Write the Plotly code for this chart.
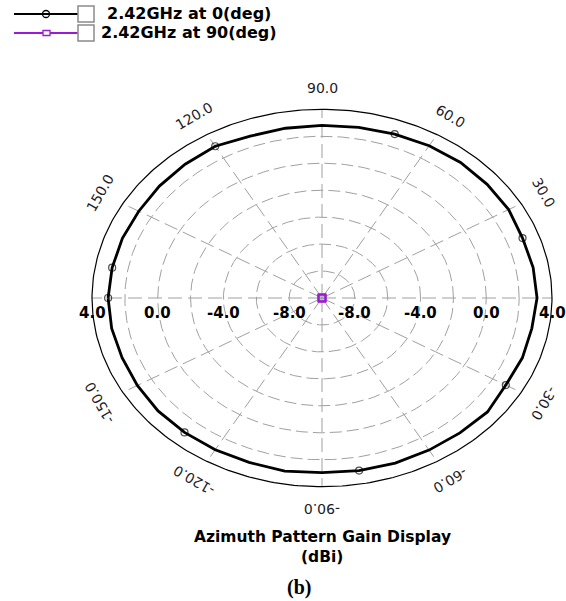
import numpy as np
import plotly.graph_objects as go

# ---- data -------------------------------------------------------------
angles_deg = list(range(-180, 190, 10))
gain_0deg = [3.02, 3.00, 2.95, 2.98, 3.03, 3.02, 3.00, 2.98, 3.05, 2.96,
             3.00, 3.04, 3.03, 3.06, 3.15, 2.92, 2.98, 2.97, 3.09, 3.05,
             2.99, 3.12, 3.12, 3.12, 3.05, 2.94, 2.85, 2.80, 2.79, 2.78,
             3.00, 2.96, 2.92, 2.88, 2.93, 2.97, 3.02]
# 90 deg cut sits at (or below) the bottom of the scale
gain_90deg = [-10.0, -10.0, -10.0, -10.0, -10.0, -10.0, -10.0, -10.0, -10.0, -10.0,
              -10.0, -10.0, -10.0, -10.0, -10.0, -10.0, -10.0, -10.0, -10.0, -10.0,
              -10.0, -10.0, -10.0, -10.0, -10.0, -10.0, -10.0, -10.0, -10.0, -10.0,
              -10.0, -10.0, -10.0, -10.0, -10.0, -10.0, -10.0]
series_names = ["2.42GHz at 0(deg)", "2.42GHz at 90(deg)"]

r_min, r_max = -10.0, 4.0
grid_rings = [-8, -6, -4, -2, 0, 2]
radial_labels = [-8, -4, 0, 4]
angle_labels = [30, 60, 90, 120, 150, -30, -60, -90, -120, -150]

# ---- geometry ---------------------------------------------------------
W, H = 566, 601
CX, CY = 322, 298              # pole position in pixels
PX_X = 230 / (r_max - r_min)   # pixels per dB, horizontal
PX_Y = 188.7 / (r_max - r_min) # pixels per dB, vertical

GRID = "#a0a0a0"
BLACK = "#000000"
PURPLE = "#9a1cd0"
TXT = "#1c1c28"


def to_xy(ang_deg, gain, clip=True):
    a = np.radians(np.asarray(ang_deg, dtype=float))
    g = np.asarray(gain, dtype=float)
    if clip:
        g = np.clip(g, r_min, r_max)
    rho = g - r_min
    return rho * np.cos(a), rho * np.sin(a)


fig = go.Figure()

# grid rings
ring_t = np.linspace(0, 360, 361)
for g in grid_rings:
    x, y = to_xy(ring_t, np.full(ring_t.shape, g))
    fig.add_trace(go.Scatter(x=x, y=y, mode="lines", hoverinfo="skip",
                             line=dict(color=GRID, width=1, dash="12px,5px"),
                             showlegend=False))
# spokes
for a in range(0, 360, 30):
    x, y = to_xy([a, a], [r_min, r_max])
    fig.add_trace(go.Scatter(x=x, y=y, mode="lines", hoverinfo="skip",
                             line=dict(color=GRID, width=1, dash="14px,6px"),
                             showlegend=False))
# outer boundary
x, y = to_xy(ring_t, np.full(ring_t.shape, r_max))
fig.add_trace(go.Scatter(x=x, y=y, mode="lines", hoverinfo="skip",
                         line=dict(color=BLACK, width=1.2), showlegend=False))

# pattern traces, a marker on every fifth sample
mk_size = [7 if i % 5 == 0 else 0 for i in range(len(angles_deg))]
x, y = to_xy(angles_deg, gain_0deg)
fig.add_trace(go.Scatter(x=x, y=y, mode="lines+markers", name=series_names[0],
                         line=dict(color=BLACK, width=2.8),
                         marker=dict(symbol="circle-open", size=mk_size,
                                     color=BLACK, line=dict(width=1.2)),
                         showlegend=False))
x, y = to_xy(angles_deg, gain_90deg)
fig.add_trace(go.Scatter(x=x, y=y, mode="lines+markers", name=series_names[1],
                         line=dict(color=PURPLE, width=2),
                         marker=dict(symbol="square-open", size=mk_size,
                                     color=PURPLE, line=dict(width=1.5)),
                         showlegend=False))

annotations = []
# angular tick labels, written along the rim just outside it
for a in angle_labels:
    lx, ly = to_xy([a], [r_max + 1.6], clip=False)
    rot = 90 - a
    if rot > 180:
        rot -= 360
    annotations.append(dict(x=float(lx[0]), y=float(ly[0]), xref="x", yref="y",
                            text=f"{a:.1f}", showarrow=False, textangle=rot,
                            font=dict(family="DejaVu Sans", size=14, color=TXT)))
# radial tick labels on both sides
for v in radial_labels:
    for sgn in (-1, 1):
        annotations.append(dict(x=sgn * (v - r_min), y=0, xref="x", yref="y",
                                yshift=-15, text=f"{v:.1f}", showarrow=False,
                                font=dict(family="DejaVu Sans", size=15,
                                          color=BLACK, weight="bold")))


def px(xp, yp):
    return xp / W, 1 - yp / H


# titles
for text, yp in [("Azimuth Pattern Gain Display", 537), ("(dBi)", 557)]:
    xx, yy = px(322, yp)
    annotations.append(dict(x=xx, y=yy, xref="paper", yref="paper", text=text,
                            showarrow=False, yanchor="middle",
                            font=dict(family="DejaVu Sans", size=15.5, color=BLACK,
                                      weight="bold")))
xx, yy = px(299, 587)
annotations.append(dict(x=xx, y=yy, xref="paper", yref="paper", text="(b)",
                        showarrow=False, yanchor="middle",
                        font=dict(family="Liberation Serif", size=20, color=BLACK,
                                  weight="bold")))

# legend rows: sample line, marker, check box, caption
shapes = []
legend_rows = [(14, BLACK, "circle", series_names[0], 105),
               (33, PURPLE, "square", series_names[1], 99)]
for yrow, col, sym, name, tx in legend_rows:
    x0, y0 = px(14, yrow)
    x1, _ = px(78, yrow)
    shapes.append(dict(type="line", xref="paper", yref="paper", x0=x0, x1=x1,
                       y0=y0, y1=y0, line=dict(color=col, width=2)))
    if sym == "circle":
        a0, b0 = px(42.5, yrow - 3.5)
        a1, b1 = px(49.5, yrow + 3.5)
        shapes.append(dict(type="circle", xref="paper", yref="paper", x0=a0, x1=a1,
                           y0=b0, y1=b1, line=dict(color=col, width=1.3),
                           fillcolor="rgba(0,0,0,0)"))
    else:
        a0, b0 = px(43, yrow - 2.5)
        a1, b1 = px(50, yrow + 2.5)
        shapes.append(dict(type="rect", xref="paper", yref="paper", x0=a0, x1=a1,
                           y0=b0, y1=b1, line=dict(color=col, width=1.3),
                           fillcolor="white"))
    a0, b0 = px(78, yrow - 8)
    a1, b1 = px(94, yrow + 8)
    shapes.append(dict(type="rect", xref="paper", yref="paper", x0=a0, x1=a1,
                       y0=b0, y1=b1, line=dict(color="#8a8a8a", width=1.5),
                       fillcolor="white"))
    xx, yy = px(tx, yrow)
    annotations.append(dict(x=xx, y=yy, xref="paper", yref="paper", text=name,
                            showarrow=False, xanchor="left", yanchor="middle",
                            font=dict(family="DejaVu Sans", size=16, color=BLACK,
                                      weight="bold")))

fig.update_layout(
    width=W, height=H, autosize=False,
    margin=dict(l=0, r=0, t=0, b=0),
    paper_bgcolor="white", plot_bgcolor="white",
    xaxis=dict(range=[-CX / PX_X, (W - CX) / PX_X], domain=[0, 1],
               visible=False, fixedrange=True),
    yaxis=dict(range=[-(H - CY) / PX_Y, CY / PX_Y], domain=[0, 1],
               visible=False, fixedrange=True),
    annotations=annotations,
    shapes=shapes,
    showlegend=False,
)

fig.write_html("out.html")
